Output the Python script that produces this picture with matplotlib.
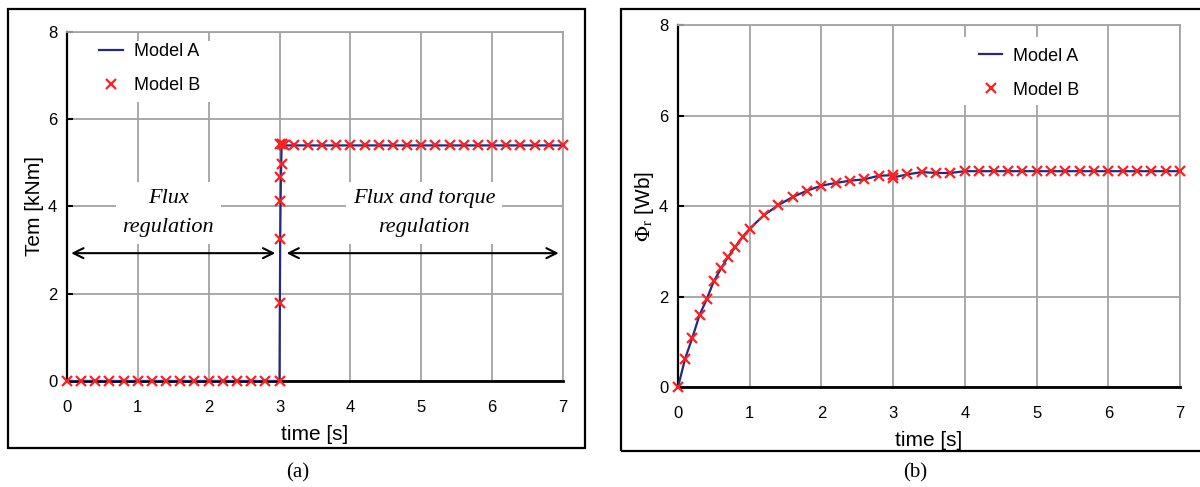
import matplotlib.pyplot as plt
from matplotlib.patches import Rectangle

plt.rcParams['font.family'] = ['Liberation Sans', 'DejaVu Sans']
plt.rcParams['mathtext.fontset'] = 'stix'

# (a) electromagnetic torque
tem_line_t = [0.0, 3.0, 3.005, 3.01, 3.015, 3.02, 3.03, 7.0]
tem_line_v = [0.0, 0.0, 1.8, 3.25, 4.1, 4.7, 5.4, 5.4]
tem_mark_t = [0.0, 0.2, 0.4, 0.6, 0.8, 1.0, 1.2, 1.4, 1.6, 1.8, 2.0, 2.2, 2.4, 2.6, 2.8, 3.0,
              3.0, 3.0, 3.0, 3.0, 3.03, 3.0, 3.03, 3.06,
              3.2, 3.4, 3.6, 3.8, 4.0, 4.2, 4.4, 4.6, 4.8, 5.0, 5.2, 5.4, 5.6, 5.8, 6.0,
              6.2, 6.4, 6.6, 6.8, 7.0]
tem_mark_v = [0.0, 0.0, 0.0, 0.0, 0.0, 0.0, 0.0, 0.0, 0.0, 0.0, 0.0, 0.0, 0.0, 0.0, 0.0, 0.0,
              1.79, 3.25, 4.12, 4.67, 4.98, 5.44, 5.44, 5.42,
              5.4, 5.4, 5.4, 5.4, 5.4, 5.4, 5.4, 5.4, 5.4, 5.4, 5.4, 5.4, 5.4, 5.4, 5.4,
              5.4, 5.4, 5.4, 5.4, 5.4]

# (b) rotor flux
phi_t = [0.0, 0.1, 0.2, 0.3, 0.4, 0.5, 0.6, 0.7, 0.8, 0.9, 1.0, 1.2, 1.4, 1.6, 1.8, 2.0,
         2.2, 2.4, 2.6, 2.8, 3.0, 3.0, 3.2, 3.4, 3.6, 3.8, 4.0, 4.2, 4.4, 4.6, 4.8, 5.0,
         5.2, 5.4, 5.6, 5.8, 6.0, 6.2, 6.4, 6.6, 6.8, 7.0]
phi_v = [0.0, 0.63, 1.09, 1.59, 1.94, 2.34, 2.62, 2.88, 3.10, 3.32, 3.50, 3.80, 4.02, 4.20,
         4.34, 4.45, 4.51, 4.56, 4.59, 4.67, 4.68, 4.63, 4.70, 4.75, 4.73, 4.73, 4.77, 4.77,
         4.77, 4.77, 4.77, 4.77, 4.77, 4.77, 4.77, 4.77, 4.77, 4.77, 4.77, 4.77, 4.77, 4.77]

xticks = [0, 1, 2, 3, 4, 5, 6, 7]
yticks = [0, 2, 4, 6, 8]

navy = '#262a7e'
red = '#ff1f1f'
grey = '#a3a3a3'

fig = plt.figure(figsize=(12, 4.87), dpi=100)

# outer frames
fig.patches.append(Rectangle((0.0064, 0.080), 0.481, 0.901, transform=fig.transFigure,
                             fill=False, edgecolor='black', lw=1.6))
fig.patches.append(Rectangle((0.5175, 0.074), 0.50, 0.9076, transform=fig.transFigure,
                             fill=False, edgecolor='black', lw=1.6))

ax1 = fig.add_axes([0.0558, 0.2177, 0.4133, 0.7166])
ax2 = fig.add_axes([0.565, 0.2053, 0.4183, 0.7433])


def style(ax):
    ax.set_xlim(0, 7)
    ax.set_ylim(0, 8)
    ax.set_xticks(xticks)
    ax.set_yticks(yticks)
    ax.grid(True, color=grey, lw=1.3)
    for s in ['top', 'right']:
        ax.spines[s].set_color(grey)
        ax.spines[s].set_linewidth(1.3)
    ax.spines['left'].set_linewidth(1.6)
    ax.spines['bottom'].set_linewidth(2.0)
    ax.tick_params(axis='y', direction='in', length=4, width=1.5, labelsize=12, pad=7)
    ax.tick_params(axis='x', length=0, labelsize=12, pad=14)
    ax.set_xlabel('time [s]', fontsize=15, labelpad=7)


style(ax1)
ax1.plot(tem_line_t, tem_line_v, color=navy, lw=1.6, label='Model A', zorder=3)
ax1.plot(tem_mark_t, tem_mark_v, 'x', color=red, ms=7, mew=1.6, label='Model B',
         zorder=4, clip_on=False)
ax1.set_ylabel('Tem [kNm]', fontsize=15, labelpad=3)
ax1.add_patch(Rectangle((0.35, 6.4), 1.85, 1.4, facecolor='white', edgecolor='none', zorder=2))
ax1.legend(loc='upper left', bbox_to_anchor=(0.38, 7.87), bbox_transform=ax1.transData,
           frameon=False, fontsize=13, handlelength=1.3, handletextpad=0.6,
           labelspacing=0.95, borderaxespad=0, borderpad=0.3)

txt = dict(fontsize=16, style='italic', family='Liberation Serif', ha='center', va='center',
           linespacing=1.75, zorder=3,
           bbox=dict(facecolor='white', edgecolor='none', pad=5))
ax1.text(1.43, 3.85, 'Flux\nregulation', **txt)
ax1.text(5.04, 3.85, 'Flux and torque\nregulation', **txt)

arrow = dict(arrowstyle='<->', color='black', lw=1.5, mutation_scale=18)
ax1.annotate('', xy=(0.02, 2.93), xytext=(2.98, 2.93), arrowprops=arrow, zorder=3)
ax1.annotate('', xy=(3.06, 2.93), xytext=(6.98, 2.93), arrowprops=arrow, zorder=3)

style(ax2)
ax2.plot(phi_t, phi_v, color=navy, lw=1.6, label='Model A', zorder=3)
ax2.plot(phi_t, phi_v, 'x', color=red, ms=7, mew=1.6, label='Model B', zorder=4,
         clip_on=False)
ax2.set_ylabel(r'$\Phi_\mathrm{r}$ [Wb]', fontsize=15, labelpad=2)
ax2.add_patch(Rectangle((3.98, 6.23), 1.99, 1.5, facecolor='white', edgecolor='none', zorder=2))
ax2.legend(loc='upper left', bbox_to_anchor=(4.12, 7.62), bbox_transform=ax2.transData,
           frameon=False, fontsize=13, handlelength=1.3, handletextpad=0.6,
           labelspacing=0.95, borderaxespad=0, borderpad=0.3)

fig.text(0.248, 0.029, '(a)', fontsize=15, family='Liberation Serif', ha='center', va='center')
fig.text(0.763, 0.029, '(b)', fontsize=15, family='Liberation Serif', ha='center', va='center')

fig.savefig('out.png', dpi=100)
